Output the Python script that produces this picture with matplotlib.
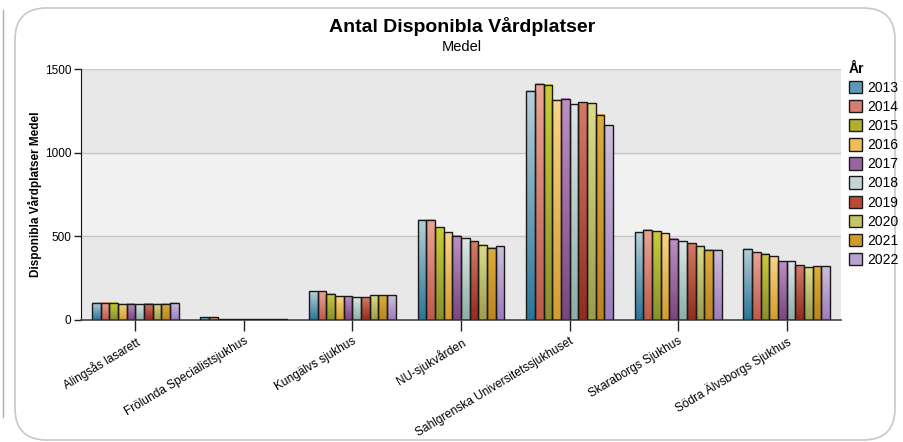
import numpy as np
import matplotlib
matplotlib.use("Agg")
import matplotlib.pyplot as plt
from matplotlib.patches import FancyBboxPatch, Rectangle
from matplotlib.colors import to_rgb

plt.rcParams['font.family'] = ['Liberation Sans', 'DejaVu Sans']

hospitals = ["Alingsås lasarett", "Frölunda Specialistsjukhus", "Kungälvs sjukhus",
             "NU-sjukvården", "Sahlgrenska Universitetssjukhuset", "Skaraborgs Sjukhus",
             "Södra Älvsborgs Sjukhus"]
years = ["2013", "2014", "2015", "2016", "2017", "2018", "2019", "2020", "2021", "2022"]

v2013 = [103, 15, 173, 599, 1369, 525, 427]
v2014 = [103, 15, 171, 599, 1411, 539, 406]
v2015 = [103, 4, 157, 555, 1405, 531, 397]
v2016 = [97, 4, 143, 525, 1315, 519, 382]
v2017 = [97, 4, 143, 503, 1321, 487, 351]
v2018 = [97, 4, 135, 493, 1288, 473, 351]
v2019 = [97, 4, 135, 471, 1300, 459, 327]
v2020 = [97, 4, 149, 451, 1294, 443, 314]
v2021 = [97, 4, 149, 433, 1226, 419, 322]
v2022 = [103, 4, 149, 441, 1164, 419, 322]
series = [v2013, v2014, v2015, v2016, v2017, v2018, v2019, v2020, v2021, v2022]

top_cols = ["#b8cfd8", "#eba594", "#cccc38", "#f9d486", "#bd90c6",
            "#dde7e6", "#d67a66", "#dcdc88", "#dcae3a", "#cdbfdd"]
bot_cols = ["#2a7698", "#bd5a4a", "#869030", "#d49c2e", "#7a4680",
            "#8eada6", "#922c1c", "#9c9c4e", "#bb8420", "#9d7cbc"]
mid_cols = ["#5e9ab8", "#d87e6e", "#b0b030", "#f0bc5c", "#9a64a4",
            "#c4d6d4", "#b84a36", "#c4c468", "#d09c2c", "#b8a2d2"]

fig = plt.figure(figsize=(9.04, 4.42), dpi=100)
# outer rounded frame
frame = FancyBboxPatch((15/904, 2/442), 880/904, 432/442,
                       boxstyle="round,pad=0,rounding_size=0.035",
                       transform=fig.transFigure, facecolor="white",
                       edgecolor="#c8c8c8", linewidth=1.2, mutation_aspect=904/442,
                       zorder=-10)
fig.patches.append(frame)
fig.add_artist(matplotlib.lines.Line2D([3/904, 3/904], [25/442, 432/442],
                                       transform=fig.transFigure, color="#b0b0b0", lw=1))

ax = fig.add_axes([81/904, 1 - 320/442, 760/904, 251/442])
ax.set_zorder(5)
ax.patch.set_alpha(0)
ax.set_xlim(-0.5, 6.5)
ax.set_ylim(0, 1500)
ax.axhspan(0, 500, color="#e8e8e8", zorder=0)
ax.axhspan(500, 1000, color="#f1f1f1", zorder=0)
ax.axhspan(1000, 1500, color="#e8e8e8", zorder=0)
for g in [500, 1000, 1500]:
    ax.axhline(g, color="#c8c8c8", lw=1, zorder=0.5)

x = np.arange(len(hospitals))
n = len(years)
bw = 0.08
for i, (vals, yr) in enumerate(zip(series, years)):
    pos = x - bw * n / 2 + bw * (i + 0.5)
    bars = ax.bar(pos, vals, width=bw, facecolor="none", edgecolor="#1a1a1a",
                  linewidth=1.0, zorder=3)
    c0 = np.array(to_rgb(top_cols[i]))
    c1 = np.array(to_rgb(bot_cols[i]))
    grad = np.linspace(0, 1, 64)[:, None]
    img = (c0[None, :] * (1 - grad) + c1[None, :] * grad)[:, None, :]
    for b in bars:
        x0, y0 = b.get_x(), b.get_y()
        w, h = b.get_width(), b.get_height()
        ax.imshow(img, extent=[x0, x0 + w, y0, y0 + h], aspect="auto",
                  zorder=2, interpolation="bilinear")
    # legend handle
    ax.add_patch(Rectangle((0, 0), 0, 0, facecolor=mid_cols[i], edgecolor="#1a1a1a",
                           label=yr))

ax.set_xlim(-0.5, 6.5)
ax.set_ylim(0, 1500)
ax.set_xticks(x)
ax.set_xticklabels(hospitals, rotation=31, ha="right", fontsize=8.6,
                   rotation_mode="anchor")
for lab in ax.get_xticklabels():
    lab.set_transform(lab.get_transform() + matplotlib.transforms.ScaledTranslation(7/100, 0, fig.dpi_scale_trans))
ax.set_yticks([0, 500, 1000, 1500])
ax.tick_params(axis="x", length=8, width=1, color="#222222", pad=3)
ax.tick_params(axis="y", length=5, width=1, color="#222222", labelsize=8.5, pad=2)
for s in ["top", "right"]:
    ax.spines[s].set_visible(False)
ax.spines["left"].set_color("#111111")
ax.spines["bottom"].set_color("#444444")
ax.spines["bottom"].set_linewidth(1.2)
ax.set_ylabel("Disponibla Vårdplatser Medel", fontsize=8.5, fontweight="bold", labelpad=2)

fig.text(462/904, 1 - 27/442, "Antal Disponibla Vårdplatser", ha="center", va="center",
         fontsize=14, fontweight="bold")
fig.text(462/904, 1 - 47/442, "Medel", ha="center", va="center", fontsize=10.5)

handles, labels = ax.get_legend_handles_labels()
leg = fig.legend(handles, labels, loc="upper left", bbox_to_anchor=(843/904, 1 - 56/442),
                 frameon=False, fontsize=10, title="År", handlelength=1.0, handleheight=1.0,
                 handletextpad=0.35, labelspacing=0.37, borderaxespad=0, alignment="left")
leg.get_title().set_fontweight("bold")
leg.get_title().set_fontsize(10)

fig.savefig("out.png", dpi=100)
